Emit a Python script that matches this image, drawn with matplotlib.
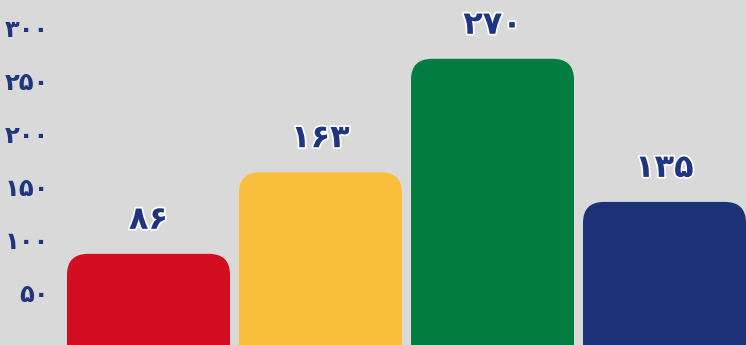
import matplotlib.pyplot as plt
from matplotlib.patches import FancyBboxPatch
import matplotlib.patheffects as pe

values = [86, 163, 270, 135]
colors = ['#d20e20', '#f9be3c', '#027c41', '#1c3276']
yticks = [0, 50, 100, 150, 200, 250, 300]

fa_digits = str.maketrans('0123456789', '۰۱۲۳۴۵۶۷۸۹')


def fa(n):
    return str(n).translate(fa_digits)


bg = '#d9d9d9'
text_color = '#1f3580'
W, H = 746, 345

fig = plt.figure(figsize=(W / 100, H / 100), dpi=100, facecolor=bg)
ax = fig.add_axes([0, 0, 1, 1], facecolor=bg)

pitch_px = 172
ymax = 325.5
ax.set_ylim(0, ymax)
ax.set_xlim(-148.5 / pitch_px, (W - 148.5) / pitch_px)

bar_w = 163 / pitch_px
px_x = pitch_px
px_y = H / ymax
radius = 21 / px_x

for i, (v, c) in enumerate(zip(values, colors)):
    box = FancyBboxPatch((i - bar_w / 2, -60), bar_w, v + 60,
                         boxstyle=f'round,pad=0,rounding_size={radius}',
                         mutation_aspect=px_x / px_y,
                         facecolor=c, edgecolor='none')
    ax.add_patch(box)
    ax.text(i, v + 17, fa(v), ha='center', va='bottom',
            fontsize=23, fontweight='bold', color=text_color,
            family=['DejaVu Sans'],
            path_effects=[pe.withStroke(linewidth=2.5, foreground='white')])

ax.set_yticks(yticks)
ax.set_yticklabels([fa(t) for t in yticks], fontsize=17.5, fontweight='bold',
                   color=text_color)
ax.tick_params(axis='y', length=0, pad=-35.5)
ax.tick_params(axis='x', bottom=False, labelbottom=False)
for s in ax.spines.values():
    s.set_visible(False)

fig.savefig('out.png', dpi=100, facecolor=bg)
